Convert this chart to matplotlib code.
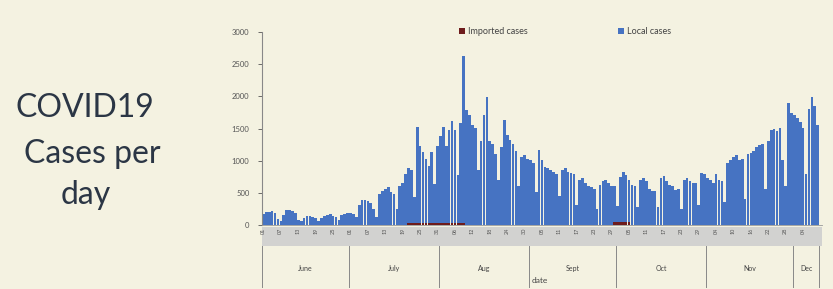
import numpy as np
import pandas as pd
import matplotlib
matplotlib.use("Agg")
from matplotlib import pyplot as plt
from matplotlib.patches import Rectangle

# Daily local cases, 1 June -> 9 Dec
june = [170, 200, 190, 210, 180, 90, 60, 150, 220, 230, 210, 180, 70, 50, 110,
        130, 140, 120, 110, 60, 100, 140, 150, 160, 130, 120, 70, 150, 170, 180]
july = [180, 170, 120, 300, 380, 390, 360, 330, 250, 120, 480, 520, 560, 590, 510,
        470, 250, 600, 650, 780, 850, 820, 400, 1500, 1200, 1100, 1000, 880, 1100, 600,
        1200]
aug = [1350, 1500, 1200, 1450, 1580, 1450, 750, 1550, 2600, 1780, 1700, 1550, 1500, 850, 1300,
       1700, 1980, 1300, 1250, 1100, 700, 1200, 1620, 1400, 1320, 1250, 1150, 600, 1050, 1080,
       1020]
sept = [1000, 950, 500, 1160, 1000, 900, 880, 850, 820, 780, 450, 850, 880, 820, 800,
        780, 300, 700, 720, 650, 600, 580, 560, 250, 620, 680, 700, 650, 600, 560]
octo = [250, 700, 780, 720, 650, 620, 600, 280, 700, 730, 680, 560, 530, 520, 280,
        720, 750, 680, 620, 600, 540, 550, 250, 700, 720, 680, 650, 640, 300, 800,
        780]
nov = [720, 700, 650, 780, 700, 680, 350, 950, 1000, 1050, 1080, 1000, 1020, 400, 1100,
       1120, 1150, 1200, 1240, 1260, 550, 1300, 1470, 1480, 1450, 1500, 1000, 600, 1890, 1730]
dec = [1700, 1650, 1600, 1500, 780, 1800, 1980, 1850, 1550]

local = june + july + aug + sept + octo + nov + dec

# Imported cases, small and mostly hidden at the base
imported = [6] * len(local)
for i in range(50, 70):
    imported[i] = 30
for i in range(121, 127):
    imported[i] = 50

months = ["June", "July", "Aug", "Sept", "Oct", "Nov", "Dec"]
month_len = [len(june), len(july), len(aug), len(sept), len(octo), len(nov), len(dec)]

dates = pd.date_range("2020-06-01", periods=len(local), freq="D")

bg = "#F4F2E1"
blue = "#4673C2"
red = "#6E1C1C"

plt.rcParams["font.family"] = ["Lato", "DejaVu Sans"]

fig = plt.figure(figsize=(8.33, 2.89), dpi=100, facecolor=bg)
ax = fig.add_axes([262 / 833, 1 - 225 / 289, 560 / 833, 193 / 289])
ax.set_facecolor(bg)

x = np.arange(len(local))
ax.bar(x, imported, width=0.92, color=red, label="Imported cases", zorder=2)
ax.bar(x, local, width=0.92, bottom=imported, color=blue, label="Local cases", zorder=2)

ax.set_xlim(-0.5, len(local) + 0.5)
ax.set_ylim(0, 3000)
ax.set_yticks(np.arange(0, 3001, 500))
ax.tick_params(axis="y", labelsize=5.5, colors="#555555", length=3, width=0.6, pad=6)
for s in ["top", "right"]:
    ax.spines[s].set_visible(False)
ax.spines["left"].set_color("#888888")
ax.spines["left"].set_linewidth(0.8)
ax.spines["bottom"].set_color("#999999")
ax.spines["bottom"].set_linewidth(0.6)

# grey date band under the bars
ax.add_patch(Rectangle((0, -0.11), 1, 0.10, transform=ax.transAxes,
                       facecolor="#D2D2D0", edgecolor="none", clip_on=False))
tick_idx = np.arange(0, len(local), 6)
ax.set_xticks(tick_idx)
ax.set_xticklabels([dates[i].strftime("%d") for i in tick_idx], rotation=90,
                   fontsize=4, color="#555555")
ax.tick_params(axis="x", length=0, pad=2)

# month groups
trans = ax.get_xaxis_transform()
start = 0
edges = [-0.5]
for m, n in zip(months, month_len):
    ax.text(start + n / 2 - 0.5, -0.225, m, transform=trans, ha="center",
            va="center", fontsize=5, color="#444444")
    start += n
    edges.append(start - 0.5)
for e in edges:
    ax.plot([e, e], [-0.11, -0.32], transform=trans, color="#888888",
            linewidth=0.7, clip_on=False)

ax.text(0.496, -0.29, "date", transform=ax.transAxes, ha="center", va="center",
        fontsize=6, color="#444444")

ax.legend(loc="center", bbox_to_anchor=(565 / 833, 1 - 32 / 289),
          bbox_transform=fig.transFigure, ncol=2, frameon=False, fontsize=6.5,
          handlelength=0.7, handleheight=0.7, handletextpad=0.3,
          columnspacing=10, labelcolor="#444444")

# side title
tc = "#2B3645"
fig.text(85 / 833, 1 - 117 / 289, "COVID19", ha="center", va="baseline", fontsize=23, color=tc)
fig.text(92 / 833, 1 - 163 / 289, "Cases per", ha="center", va="baseline", fontsize=23, color=tc)
fig.text(86 / 833, 1 - 204 / 289, "day", ha="center", va="baseline", fontsize=23, color=tc)

fig.savefig("out.png", dpi=100, facecolor=bg)
